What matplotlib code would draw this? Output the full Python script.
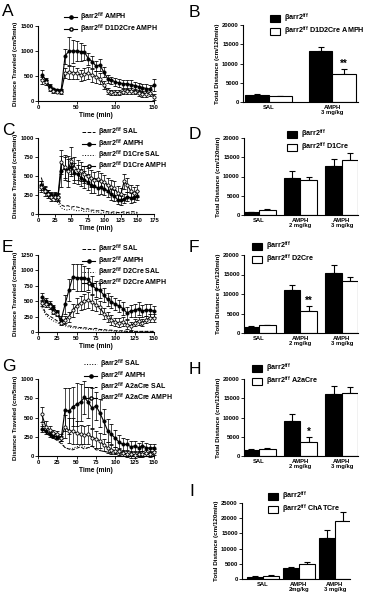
import matplotlib
matplotlib.use("Agg")
import matplotlib.pyplot as plt
from matplotlib.lines import Line2D
from matplotlib.patches import Patch
import numpy as np

plt.rcParams['font.family'] = ['Liberation Sans', 'DejaVu Sans']
plt.rcParams['font.weight'] = 'bold'
plt.rcParams['mathtext.fontset'] = 'custom'
plt.rcParams['mathtext.rm'] = 'Liberation Sans:bold'
plt.rcParams['mathtext.default'] = 'rm'

W, H = 369, 597
FF = u'\u03b2arr2$^{f/f}$'

## time axis of the locomotor curves (min)
time = np.arange(5, 155, 5)

## A: D1D2Cre
a_wt_amph = [530, 420, 300, 240, 220, 220, 900, 1000, 1000, 1000, 990, 980, 850, 790, 700, 720,
             580, 450, 420, 380, 360, 350, 340, 330, 310, 290, 270, 250, 240, 330]
a_wt_amph_err = [90, 50, 40, 30, 30, 30, 150, 280, 230, 200, 180, 150, 120, 120, 100, 120,
                 100, 80, 70, 80, 80, 80, 80, 100, 80, 80, 80, 90, 80, 120]
a_ko_amph = [420, 380, 250, 200, 190, 180, 560, 580, 570, 560, 520, 540, 560, 520, 490, 450,
             330, 200, 180, 170, 170, 190, 200, 210, 190, 160, 140, 150, 170, 90]
a_ko_amph_err = [70, 50, 40, 30, 30, 30, 100, 130, 130, 110, 110, 120, 120, 130, 120, 110,
                 80, 60, 50, 50, 50, 50, 50, 60, 50, 60, 60, 60, 60, 60]

## C: D1Cre
c_wt_sal = [480, 330, 250, 220, 200, 180, 120, 100, 110, 90, 100, 90, 80, 60, 70, 50,
            50, 40, 50, 40, 30, 20, 30, 20, 20, 30, 20, 30, 30, 20]
c_wt_amph = [380, 320, 280, 250, 250, 220, 560, 600, 580, 620, 540, 520, 480, 450, 420, 380,
             370, 340, 350, 330, 300, 260, 240, 190, 180, 200, 230, 210, 220, 240]
c_wt_amph_err = [60, 50, 40, 40, 40, 40, 200, 150, 150, 120, 130, 120, 110, 110, 100, 100,
                 100, 90, 90, 80, 80, 70, 70, 60, 60, 60, 60, 60, 60, 60]
c_ko_sal = [400, 300, 220, 180, 170, 150, 80, 60, 50, 70, 50, 40, 50, 30, 40, 30,
            20, 30, 10, 20, 10, 10, 10, 10, 20, 10, 10, 10, 10, 10]
c_ko_amph = [360, 300, 260, 220, 220, 220, 680, 620, 560, 700, 600, 580, 560, 520, 500, 470,
             450, 460, 440, 420, 380, 360, 340, 280, 260, 430, 380, 300, 280, 300]
c_ko_amph_err = [70, 60, 50, 50, 50, 50, 160, 150, 200, 180, 150, 130, 120, 110, 110, 110,
                 100, 100, 100, 90, 90, 90, 90, 90, 80, 100, 90, 80, 80, 80]

## E: D2Cre
e_wt_sal = [450, 300, 260, 220, 180, 130, 120, 100, 90, 80, 70, 70, 60, 50, 60, 40,
            40, 30, 30, 20, 20, 20, 10, 10, 10, 10, 10, 10, 10, 10]
e_wt_amph = [570, 500, 450, 400, 320, 200, 450, 680, 900, 880, 880, 870, 860, 760, 700, 680,
             600, 530, 490, 450, 420, 380, 310, 340, 350, 380, 340, 360, 350, 340]
e_wt_amph_err = [60, 50, 50, 40, 40, 60, 150, 180, 200, 220, 220, 200, 180, 150, 130, 120,
                 110, 110, 100, 100, 100, 100, 100, 100, 110, 100, 100, 100, 100, 90]
e_ko_sal = [400, 280, 220, 180, 150, 120, 100, 80, 70, 60, 60, 50, 40, 40, 30, 30,
            20, 20, 20, 10, 10, 10, 10, 10, 10, 10, 10, 10, 10, 10]
e_ko_amph = [470, 450, 420, 330, 300, 150, 200, 250, 350, 430, 470, 500, 520, 480, 440, 400,
             300, 250, 200, 160, 150, 170, 120, 100, 150, 180, 150, 200, 230, 230]
e_ko_amph_err = [50, 40, 40, 40, 40, 40, 60, 80, 100, 120, 120, 120, 130, 120, 100, 100,
                 90, 80, 80, 70, 70, 70, 70, 60, 60, 60, 60, 60, 60, 60]

## G: A2aCre
g_wt_sal = [450, 320, 280, 240, 220, 180, 110, 90, 100, 120, 140, 120, 100, 130, 90, 80,
            60, 50, 40, 30, 30, 20, 20, 20, 20, 20, 20, 20, 20, 20]
g_wt_amph = [350, 320, 280, 260, 250, 230, 600, 580, 640, 670, 700, 760, 700, 620, 650, 560,
             450, 330, 280, 230, 180, 150, 150, 120, 130, 110, 130, 110, 100, 110]
g_wt_amph_err = [40, 40, 30, 30, 30, 30, 280, 300, 250, 280, 240, 220, 200, 260, 180, 180,
                 160, 150, 130, 110, 90, 80, 70, 70, 60, 60, 60, 60, 50, 50]
g_ko_sal = [420, 300, 260, 230, 200, 160, 110, 90, 80, 100, 120, 90, 110, 130, 80, 70,
            60, 50, 40, 30, 30, 20, 20, 20, 20, 20, 20, 20, 20, 20]
g_ko_amph = [540, 380, 340, 300, 280, 240, 380, 330, 320, 300, 280, 270, 280, 240, 220, 200,
             140, 110, 80, 70, 60, 40, 30, 20, 10, 30, 30, 40, 30, 50]
g_ko_amph_err = [100, 70, 50, 40, 40, 40, 150, 160, 170, 150, 120, 120, 120, 110, 110, 100,
                 80, 70, 60, 50, 50, 40, 40, 40, 40, 40, 40, 40, 40, 40]

## total distance bars (cm/120min)
b_groups = ['SAL', 'AMPH\n3 mg/kg']
b_wt = [1800, 13300]
b_wt_err = [200, 1000]
b_ko = [1500, 7200]
b_ko_err = [100, 1400]

dose_groups = ['SAL', 'AMPH\n2 mg/kg', 'AMPH\n3 mg/kg']
d_wt = [700, 9500, 12700]
d_wt_err = [100, 1800, 1900]
d_ko = [1300, 9200, 14200]
d_ko_err = [200, 700, 2000]

f_wt = [1500, 11000, 15500]
f_wt_err = [200, 1200, 2000]
f_ko = [2000, 5700, 13400]
f_ko_err = [100, 1200, 1000]

h_wt = [1600, 9000, 16000]
h_wt_err = [200, 1900, 2200]
h_ko = [1900, 3700, 16300]
h_ko_err = [200, 1300, 1500]

i_groups = ['SAL', 'AMPH\n2mg/kg', 'AMPH\n3 mg/kg']
i_wt = [800, 3500, 13400]
i_wt_err = [100, 400, 2800]
i_ko = [1000, 4900, 19200]
i_ko_err = [200, 800, 3000]


fig = plt.figure(figsize=(W/100., H/100.), dpi=100)


def px_axes(x0, x1, ytop, ybot):
    return fig.add_axes([x0/float(W), 1-ybot/float(H), (x1-x0)/float(W), (ybot-ytop)/float(H)])


def style(ax):
    for s in ['top', 'right']:
        ax.spines[s].set_visible(False)
    for s in ['left', 'bottom']:
        ax.spines[s].set_linewidth(0.8)
    ax.tick_params(direction='out', length=2, width=0.6, labelsize=4.2, pad=1)
    for lab in ax.get_xticklabels() + ax.get_yticklabels():
        lab.set_fontweight('bold')


def letter(x, y, s):
    fig.text(x/float(W), 1-y/float(H), s, fontsize=12.5, fontweight='normal', va='top', ha='left')


def legend_at(ax, handles, labels, x, y, **kw):
    opts = dict(loc='upper left', bbox_to_anchor=(x/float(W), 1-y/float(H)),
                bbox_transform=fig.transFigure, frameon=False, fontsize=5.0,
                handlelength=1.9, handletextpad=0.4, labelspacing=-0.3,
                borderpad=0, borderaxespad=0)
    opts.update(kw)
    leg = ax.legend(handles, labels, **opts)
    for t in leg.get_texts():
        t.set_fontweight('bold')


def amph_curve(ax, y, err, filled):
    ax.errorbar(time, y, yerr=err, fmt='-o', color='k', ms=2.3, lw=0.8,
                mfc='k' if filled else 'white', mec='k', mew=0.6,
                elinewidth=0.5, capsize=1.2, capthick=0.5, clip_on=False, zorder=3 if filled else 4)


def sal_curve(ax, y, ls):
    ax.plot(time, y, ls=ls, color='k', lw=0.7, clip_on=False)


def time_axes(ax, xmax, xstep, ymax, ystep):
    ax.set_xlim(0, xmax)
    ax.set_ylim(0, ymax)
    ax.set_xticks(np.arange(0, xmax+1, xstep))
    ax.set_yticks(np.arange(0, ymax+1, ystep))
    ax.set_xlabel('Time (min)', fontsize=4.8, fontweight='bold', labelpad=1)
    ax.set_ylabel('Distance Traveled (cm/5min)', fontsize=4.5, fontweight='bold', labelpad=1.5)
    style(ax)


h_wt_sal = Line2D([], [], color='k', ls='--', lw=0.7)
h_wt_amph = Line2D([], [], color='k', ls='-', lw=0.8, marker='o', ms=2.3, mfc='k')
h_ko_sal = Line2D([], [], color='k', ls=':', lw=0.7)
h_ko_amph = Line2D([], [], color='k', ls='-', lw=0.8, marker='o', ms=2.3, mfc='white')

## ---- A ----
ax = px_axes(38, 154, 26, 101)
amph_curve(ax, a_wt_amph, a_wt_amph_err, True)
amph_curve(ax, a_ko_amph, a_ko_amph_err, False)
time_axes(ax, 150, 50, 1500, 500)
legend_at(ax, [h_wt_amph, h_ko_amph], [FF + ' AMPH', FF + ' D1D2Cre AMPH'], 64, 11)
letter(2, 4, 'A')

## ---- C ----
ax = px_axes(38, 154, 138, 214)
sal_curve(ax, c_wt_sal, '--')
sal_curve(ax, c_ko_sal, ':')
amph_curve(ax, c_wt_amph, c_wt_amph_err, True)
amph_curve(ax, c_ko_amph, c_ko_amph_err, False)
time_axes(ax, 175, 25, 1000, 250)
legend_at(ax, [h_wt_sal, h_wt_amph, h_ko_sal, h_ko_amph],
          [FF + ' SAL', FF + ' AMPH', FF + ' D1Cre SAL', FF + ' D1Cre AMPH'], 82, 126)
letter(2, 123, 'C')

## ---- E ----
ax = px_axes(38, 154, 255, 332)
sal_curve(ax, e_wt_sal, '--')
sal_curve(ax, e_ko_sal, ':')
amph_curve(ax, e_wt_amph, e_wt_amph_err, True)
amph_curve(ax, e_ko_amph, e_ko_amph_err, False)
time_axes(ax, 150, 25, 1250, 250)
legend_at(ax, [h_wt_sal, h_wt_amph, h_ko_sal, h_ko_amph],
          [FF + ' SAL', FF + ' AMPH', FF + ' D2Cre SAL', FF + ' D2Cre AMPH'], 82, 243)
letter(2, 240, 'E')

## ---- G ----
ax = px_axes(38, 154, 379, 456)
sal_curve(ax, g_wt_sal, ':')
sal_curve(ax, g_ko_sal, '--')
amph_curve(ax, g_wt_amph, g_wt_amph_err, True)
amph_curve(ax, g_ko_amph, g_ko_amph_err, False)
time_axes(ax, 150, 25, 1000, 250)
legend_at(ax, [h_ko_sal, h_wt_amph, h_wt_sal, h_ko_amph],
          [FF + ' SAL', FF + ' AMPH', FF + ' A2aCre SAL', FF + ' A2aCre AMPH'], 84, 358)
letter(2, 359, 'G')


## ---- bar panels ----
def bar_panel(ax, groups, wt, wt_err, ko, ko_err, xlim, ymax, ystep, w=0.4, stars=None):
    x = np.arange(len(groups))
    ax.bar(x - w/2, wt, w, color='k', edgecolor='k', lw=0.8, zorder=2)
    ax.bar(x + w/2, ko, w, color='white', edgecolor='k', lw=0.8, zorder=2)
    ax.errorbar(x - w/2, wt, yerr=[np.zeros(len(wt)), wt_err], fmt='none', ecolor='k',
                elinewidth=0.8, capsize=2.5, capthick=0.8, zorder=1)
    ax.errorbar(x + w/2, ko, yerr=[np.zeros(len(ko)), ko_err], fmt='none', ecolor='k',
                elinewidth=0.8, capsize=2.5, capthick=0.8, zorder=1)
    if stars:
        for i, s in stars.items():
            ax.text(x[i] + w/2, ko[i] + ko_err[i] + ymax*0.005, s, ha='center', va='bottom',
                    fontsize=7, fontweight='bold')
    ax.set_xlim(*xlim)
    ax.set_ylim(0, ymax)
    ax.set_yticks(np.arange(0, ymax+1, ystep))
    ax.set_xticks(x)
    ax.set_xticklabels(groups, linespacing=1.1)
    ax.set_ylabel('Total Distance (cm/120min)', fontsize=4.5, fontweight='bold', labelpad=1.5)
    style(ax)
    ax.tick_params(axis='x', length=0, pad=2)


h_bar_wt = Patch(facecolor='k', edgecolor='k', lw=0.8)
h_bar_ko = Patch(facecolor='white', edgecolor='k', lw=0.8)
bar_leg = dict(handlelength=1.4, handleheight=1.1, fontsize=5.2, labelspacing=-0.05,
               handletextpad=0.5)

ax = px_axes(243, 358, 25, 102)
bar_panel(ax, b_groups, b_wt, b_wt_err, b_ko, b_ko_err, (-0.4, 1.4), 20000, 5000, w=0.37,
          stars={1: '**'})
legend_at(ax, [h_bar_wt, h_bar_ko], [FF, FF + ' D1D2Cre AMPH'], 270, 12, **bar_leg)
letter(189, 5, 'B')

ax = px_axes(244, 358, 138, 215)
bar_panel(ax, dose_groups, d_wt, d_wt_err, d_ko, d_ko_err, (-0.36, 2.39), 20000, 5000)
legend_at(ax, [h_bar_wt, h_bar_ko], [FF, FF + ' D1Cre'], 287, 128, **bar_leg)
letter(189, 127, 'D')

ax = px_axes(244, 358, 255, 333)
bar_panel(ax, dose_groups, f_wt, f_wt_err, f_ko, f_ko_err, (-0.36, 2.39), 20000, 5000,
          stars={1: '**'})
legend_at(ax, [h_bar_wt, h_bar_ko], [FF, FF + ' D2Cre'], 252, 240, **bar_leg)
letter(189, 240, 'F')

ax = px_axes(244, 358, 379, 456)
bar_panel(ax, dose_groups, h_wt, h_wt_err, h_ko, h_ko_err, (-0.36, 2.39), 20000, 5000,
          stars={1: '*'})
legend_at(ax, [h_bar_wt, h_bar_ko], [FF, FF + ' A2aCre'], 252, 362, **bar_leg)
letter(189, 362, 'H')

ax = px_axes(242, 350, 503, 579)
bar_panel(ax, i_groups, i_wt, i_wt_err, i_ko, i_ko_err, (-0.58, 2.42), 25000, 5000, w=0.45)
legend_at(ax, [h_bar_wt, h_bar_ko], [FF, FF + ' ChATCre'], 268, 490, **bar_leg)
letter(189, 484, 'I')

fig.savefig('out.png', dpi=100)
